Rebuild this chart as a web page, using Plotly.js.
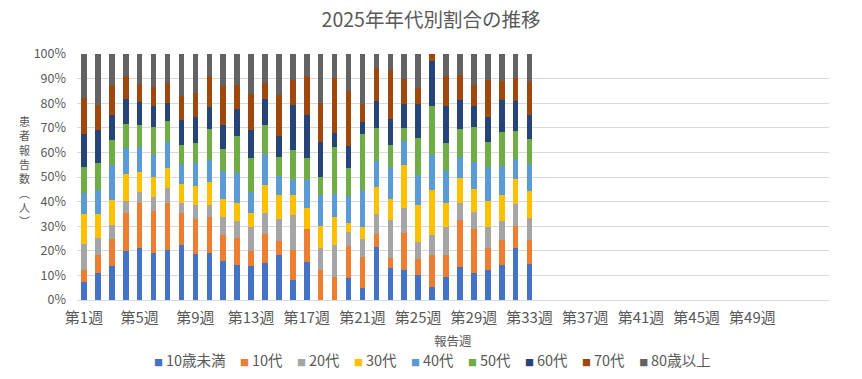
<!DOCTYPE html>
<html>
<head>
<meta charset="utf-8">
<script src="https://cdn.plot.ly/plotly-3.0.1.min.js"></script>
<style>html,body{margin:0;padding:0;background:#fff;}#chart{width:862px;height:379px;}</style>
</head>
<body>
<div id="chart"></div>
<script>
// Categories: report weeks 1..52
const weeks = ['第1週','第2週','第3週','第4週','第5週','第6週','第7週','第8週','第9週','第10週','第11週','第12週','第13週','第14週','第15週','第16週','第17週','第18週','第19週','第20週','第21週','第22週','第23週','第24週','第25週','第26週','第27週','第28週','第29週','第30週','第31週','第32週','第33週','第34週','第35週','第36週','第37週','第38週','第39週','第40週','第41週','第42週','第43週','第44週','第45週','第46週','第47週','第48週','第49週','第50週','第51週','第52週'];
const tickWeeks = ['第1週','第5週','第9週','第13週','第17週','第21週','第25週','第29週','第33週','第37週','第41週','第45週','第49週'];

// Share (%) per age group, weeks 1..33
const under10 = [7.3,11.0,13.8,19.9,21.1,19.1,20.3,22.4,18.7,19.1,15.9,14.2,13.8,15.0,18.3,8.1,15.4,0,0,8.9,4.9,21.7,13.0,12.2,10.3,5.4,9.5,13.6,11.1,12.2,14.4,21.1,14.6];
const age10s = [4.9,7.5,11.1,15.6,18.3,17.2,19.1,13.0,14.4,14.6,10.6,11.0,6.1,11.8,5.7,12.2,13.4,12.2,9.5,13.0,12.7,5.1,4.1,15.2,6.5,13.0,8.9,19.0,17.9,8.9,10.0,8.9,9.8];
const age20s = [10.6,6.8,5.6,4.9,4.5,5.6,6.1,4.1,5.6,4.9,7.3,6.9,9.8,8.5,8.9,14.2,0,8.9,12.9,5.7,7.3,8.1,15.4,10.0,6.8,8.1,11.4,7.0,6.8,8.7,7.9,8.9,8.9];
const age30s = [12.2,9.8,10.2,10.8,8.1,8.1,8.1,7.7,7.7,9.3,7.3,7.3,5.7,11.4,9.8,8.1,8.5,8.9,11.4,3.8,4.9,11.1,8.7,17.6,15.2,18.2,9.8,10.0,9.5,10.6,10.6,10.3,11.1];
const age40s = [8.7,9.5,14.4,10.6,10.3,9.1,10.6,8.1,9.5,8.9,11.5,12.3,8.5,12.6,7.7,6.1,11.4,12.6,9.3,10.8,14.9,10.6,13.0,9.8,12.2,14.4,13.0,8.7,10.8,13.8,11.7,8.1,10.8];
const age50s = [10.4,11.2,10.0,9.8,8.8,11.2,8.5,7.7,8.0,12.7,8.8,14.9,13.8,11.8,7.7,12.2,8.9,7.3,19.1,11.4,22.8,13.3,8.9,5.1,14.9,19.8,11.4,11.4,14.4,10.0,13.8,11.4,10.3];
const age60s = [13.4,13.4,10.2,10.2,9.3,8.5,7.5,10.2,10.7,8.9,9.8,11.1,11.4,10.7,8.5,18.3,17.6,14.2,5.7,8.9,4.9,11.1,10.6,9.8,13.8,18.4,14.9,11.7,8.4,10.3,13.0,12.2,9.8];
const age70s = [14.5,10.2,12.2,9.3,7.3,7.9,8.1,9.8,9.8,12.5,15.9,9.8,14.6,6.5,16.8,10.2,15.7,16.0,22.4,22.5,7.3,13.3,19.8,10.3,6.5,2.7,12.2,10.3,8.7,14.9,7.9,9.2,13.3];
const over80 = [18.0,20.7,12.6,8.9,12.2,13.3,11.7,17.1,15.7,8.9,13.0,12.5,16.3,11.7,16.5,10.6,8.9,19.8,9.8,14.9,20.3,5.7,6.5,10.0,13.8,0,8.9,8.4,12.5,10.6,10.8,9.8,11.4];

const groupNames = ['10歳未満','10代','20代','30代','40代','50代','60代','70代','80歳以上'];
const groupValues = [under10, age10s, age20s, age30s, age40s, age50s, age60s, age70s, over80];
const groupColors = ['#4472C4','#ED7D31','#A5A5A5','#FFC000','#5B9BD5','#70AD47','#264478','#9E480E','#636363'];

const font = '"Noto Sans CJK JP", "Noto Sans", sans-serif';
const textColor = '#595959';

const traces = groupNames.map((name, i) => ({
  type: 'bar',
  name: name,
  x: weeks.slice(0, groupValues[i].length),
  y: groupValues[i],
  marker: {color: groupColors[i], line: {width: 0}},
  hoverinfo: 'skip',
  showlegend: false
}));

// Legend row (Excel style: small squares next to labels), built from the series names/colours
const legendText = groupNames.map((n, i) =>
  '<span style="font-size:9px;color:' + groupColors[i] + '">■</span>\u2009' + n
).join('\u2003');

const layout = {
  width: 862, height: 379,
  margin: {l: 77, r: 33, t: 54, b: 79, autoexpand: false},
  paper_bgcolor: '#ffffff', plot_bgcolor: '#ffffff',
  font: {family: font, color: textColor, size: 12},
  barmode: 'stack',
  barnorm: 'percent',
  bargap: 0.6,
  title: {text: '2025年年代別割合の推移', font: {family: font, size: 19.5, color: textColor}, x: 0.5, xref: 'container', xanchor: 'center', y: 0.947, yref: 'container', yanchor: 'middle'},
  xaxis: {
    type: 'category',
    categoryorder: 'array',
    categoryarray: weeks,
    range: [-0.5, 53.5],
    tickmode: 'array',
    tickvals: tickWeeks,
    ticktext: tickWeeks,
    tickangle: 0,
    ticks: '',
    ticklabelstandoff: 4,
    showgrid: false,
    showline: true,
    linecolor: '#d9d9d9',
    linewidth: 1,
    automargin: false,
    tickfont: {family: font, size: 15, color: textColor},
    fixedrange: true
  },
  yaxis: {
    range: [0, 100],
    tickmode: 'array',
    tickvals: [0,10,20,30,40,50,60,70,80,90,100],
    ticktext: ['0%','10%','20%','30%','40%','50%','60%','70%','80%','90%','100%'],
    showgrid: true,
    gridcolor: '#d9d9d9',
    gridwidth: 1,
    zeroline: false,
    ticks: '',
    automargin: false,
    ticklabelstandoff: 10,
    tickfont: {family: font, size: 12.5, color: textColor},
    fixedrange: true
  },
  showlegend: false,
  annotations: [
    {text: '報告週', xref: 'paper', yref: 'paper', x: 0.5, y: -0.163, xanchor: 'center', yanchor: 'middle', showarrow: false, font: {family: font, size: 12.5, color: textColor}},
    {text: '患<br>者<br>報<br>告<br>数<br>︵<br>人<br>︶', xref: 'paper', yref: 'paper', x: -0.07, y: 0.524, xanchor: 'center', yanchor: 'middle', showarrow: false, font: {family: font, size: 11, color: textColor}},
    {text: legendText, xref: 'paper', yref: 'paper', x: 0.473, y: -0.241, xanchor: 'center', yanchor: 'middle', showarrow: false, font: {family: font, size: 14.5, color: textColor}}
  ]
};

Plotly.newPlot('chart', traces, layout, {displayModeBar: false, staticPlot: true});
</script>
</body>
</html>
